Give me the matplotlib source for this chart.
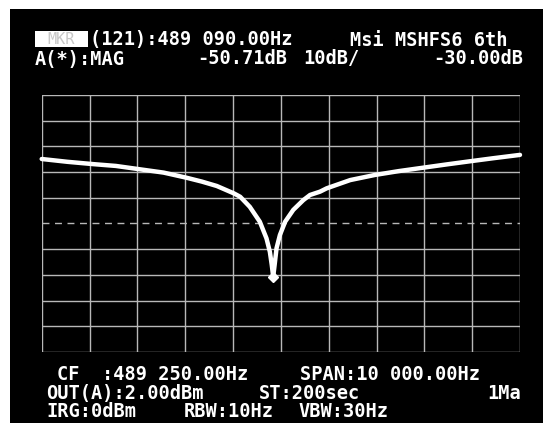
import matplotlib
matplotlib.use("Agg")
import matplotlib.pyplot as plt
from matplotlib.patches import Rectangle

# analyzer sweep settings
CENTER_HZ = 489250.0
SPAN_HZ = 10000.0
REF_DB = -30.0      # reference level sits on the dashed centre line
DB_PER_DIV = 10.0

# trace (frequency in Hz, magnitude in dB)
freq_hz = [484250, 484790, 485330, 485800, 486300, 486800, 487280, 487600,
           487910, 488270, 488400, 488600, 488810, 488950, 489020, 489060,
           489090, 489120, 489160, 489230, 489340, 489510, 489720, 489860,
           490070, 490210, 490700, 491220, 491720, 492220, 492720, 493240,
           493690, 494250]
level_db = [-4.9, -6.0, -6.9, -7.6, -8.9, -10.2, -12.2, -13.7,
            -15.4, -18.3, -19.6, -23.5, -29.3, -35.8, -41.0, -46.1,
            -50.71, -46.1, -39.6, -34.5, -29.3, -24.7, -20.9, -18.9,
            -17.6, -16.3, -13.1, -11.1, -9.6, -8.3, -7.0, -5.7,
            -4.6, -3.3]

marker_hz = 489090.0
marker_db = -50.71

header_lines = [
    ("(121):489 090.00Hz", 90, 40),
    ("Msi MSHFS6 6th", 350, 40),
    ("A(*):MAG", 35, 59),
    ("-50.71dB", 197, 59),
    ("10dB/", 303, 59),
    ("-30.00dB", 433, 59),
]
footer_lines = [
    ("CF  :489 250.00Hz", 57, 375),
    ("SPAN:10 000.00Hz", 300, 375),
    ("OUT(A):2.00dBm", 46, 393),
    ("ST:200sec", 259, 393),
    ("1Ma", 487, 393),
    ("IRG:0dBm", 46, 411),
    ("RBW:10Hz", 184, 411),
    ("VBW:30Hz", 298, 411),
]

W, H = 543, 423
fig = plt.figure(figsize=(W / 100, H / 100), dpi=100, facecolor="white")

# black CRT area behind everything
fig.patches.append(Rectangle((10 / W, 0), 1 - 10 / W, 1 - 9 / H,
                             transform=fig.transFigure, facecolor="black",
                             edgecolor="none", zorder=-5))

ax = fig.add_axes([41.7 / W, 1 - 352 / H, (520 - 41.7) / W, (352 - 95) / H])
ax.set_zorder(1)
ax.set_facecolor("black")
f0 = CENTER_HZ - SPAN_HZ / 2
f1 = CENTER_HZ + SPAN_HZ / 2
ax.set_xlim(f0, f1)
ax.set_ylim(REF_DB - 5 * DB_PER_DIV, REF_DB + 5 * DB_PER_DIV)

grid_col = "#b8b8b8"
for i in range(11):
    ax.axvline(f0 + i * SPAN_HZ / 10, color=grid_col, lw=1.0, zorder=1)
    y = REF_DB - 5 * DB_PER_DIV + i * DB_PER_DIV
    if i == 5:
        ax.axhline(y, color=grid_col, lw=1.0, ls=(0, (5, 4)), zorder=1)
    else:
        ax.axhline(y, color=grid_col, lw=1.0, zorder=1)

ax.plot(freq_hz, level_db, color="white", lw=3.2, solid_joinstyle="round",
        solid_capstyle="round", zorder=3, clip_on=False)
ax.plot([marker_hz], [marker_db], marker="D", ms=5, color="white", zorder=4)

for s in ax.spines.values():
    s.set_visible(False)
ax.set_xticks([])
ax.set_yticks([])

font = dict(family="DejaVu Sans Mono", weight="bold", color="white",
            va="center", ha="left", fontsize=13.4)

# highlighted marker tag
fig.patches.append(Rectangle((35 / W, 1 - 47 / H), 53 / W, 16 / H,
                             transform=fig.transFigure, facecolor="white",
                             edgecolor="none", zorder=2))
fig.text(61 / W, 1 - 39 / H, "MKR", family="DejaVu Sans Mono", color="#c8c8c8",
         fontsize=11, va="center", ha="center", zorder=3)

for txt, x, y in header_lines + footer_lines:
    fig.text(x / W, 1 - y / H, txt, **font)

fig.savefig("out.png", dpi=100, facecolor=fig.get_facecolor())
